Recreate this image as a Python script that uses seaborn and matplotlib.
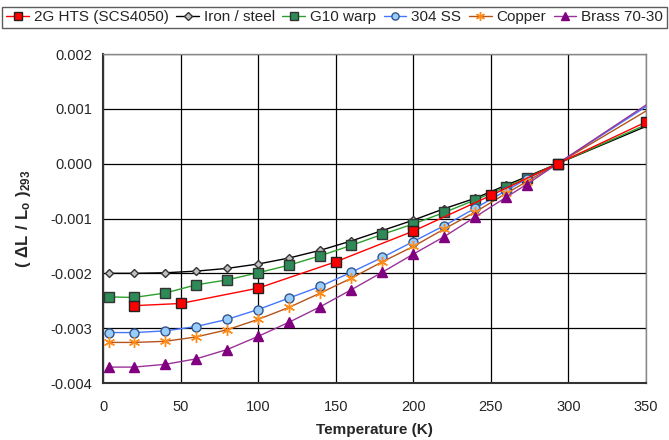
import matplotlib
matplotlib.use("Agg")
import matplotlib.pyplot as plt
import seaborn as sns
import pandas as pd
from matplotlib.lines import Line2D

# ---- data ----
temps = [4, 20, 40, 60, 80, 100, 120, 140, 160, 180, 200, 220, 240, 260, 273, 293, 350]
iron = [-0.00200, -0.00200, -0.00199, -0.00196, -0.00191, -0.00183, -0.00172, -0.00158,
        -0.00141, -0.00122, -0.00103, -0.00082, -0.00063, -0.00039, -0.00024, 0.0, 0.00068]
g10 = [-0.00243, -0.00244, -0.00236, -0.00221, -0.00212, -0.00199, -0.00185, -0.00168,
       -0.00149, -0.00129, -0.00110, -0.00089, -0.00066, -0.00042, -0.00026, 0.0, 0.00071]
ss304 = [-0.00308, -0.00308, -0.00305, -0.00297, -0.00284, -0.00266, -0.00245, -0.00224,
         -0.00198, -0.00171, -0.00142, -0.00113, -0.00081, -0.00049, -0.00028, 0.0, 0.00104]
copper = [-0.00326, -0.00326, -0.00324, -0.00316, -0.00303, -0.00284, -0.00262, -0.00236,
          -0.00209, -0.00179, -0.00151, -0.00119, -0.00088, -0.00054, -0.00033, 0.0, 0.00096]
brass = [-0.00371, -0.00371, -0.00366, -0.00356, -0.00339, -0.00315, -0.00289, -0.00261,
         -0.00230, -0.00198, -0.00165, -0.00133, -0.00097, -0.00061, -0.00038, 0.0, 0.00107]
temps_hts = [20, 50, 100, 150, 200, 250, 293, 350]
hts = [-0.00259, -0.00255, -0.00227, -0.00179, -0.00123, -0.00058, 0.0, 0.00076]

labels = ["2G HTS (SCS4050)", "Iron / steel", "G10 warp", "304 SS", "Copper", "Brass 70-30"]
xticks = [0, 50, 100, 150, 200, 250, 300, 350]
yticks = [-0.004, -0.003, -0.002, -0.001, 0.0, 0.001, 0.002]

sns.set_style("white")
plt.rcParams["font.family"] = ["Liberation Sans", "DejaVu Sans"]
plt.rcParams["mathtext.fontset"] = "custom"
plt.rcParams["mathtext.rm"] = "Liberation Sans"
plt.rcParams["mathtext.bf"] = "Liberation Sans:bold"

fig = plt.figure(figsize=(6.69, 4.40), dpi=100)
ax = fig.add_axes([103 / 669, 1 - 383 / 440, (646 - 103) / 669, (383 - 54) / 440])

edge = "#333333"
styles = [
    # label, x, y, line color, marker, face, edge, size, markevery
    (labels[1], temps, iron, "#000000", "D", "#c0c0c0", edge, 4.5, list(range(16))),
    (labels[2], temps, g10, "#2ca02c", "s", "#2e8b57", edge, 6.5, list(range(16))),
    (labels[3], temps, ss304, "#4477ff", "o", "#99ccff", "#335588", 6.5, list(range(16))),
    (labels[4], temps, copper, "#b5541b", (6, 2, 0), "#ff8c1a", "#ff8c1a", 8, list(range(16))),
    (labels[5], temps, brass, "#993399", "^", "#800080", "#800080", 7, list(range(16))),
    (labels[0], temps_hts, hts, "#ff0000", "s", "#ff0000", "#222222", 6.5, list(range(8))),
]

handles = {}
for lab, xs, ys, lc, mk, fc, ec, ms, me in styles:
    df = pd.DataFrame({"T": xs, "v": ys})
    sns.lineplot(data=df, x="T", y="v", ax=ax, color=lc, lw=1.0,
                 marker=mk, markersize=ms, markerfacecolor=fc, markeredgecolor=ec,
                 markeredgewidth=1.0, markevery=me, sort=True, estimator=None, zorder=3)
    handles[lab] = Line2D([], [], color=lc, lw=1.0, marker=mk, markersize=ms * 0.8,
                          markerfacecolor=fc, markeredgecolor=ec, markeredgewidth=1.0)

ax.set_xlim(0, 350)
ax.set_ylim(-0.004, 0.002)
ax.set_xticks(xticks)
ax.set_yticks(yticks)
ax.set_xticklabels([str(t) for t in xticks], fontsize=10.5)
ax.set_yticklabels([f"{t:.3f}" for t in yticks], fontsize=10.5)
ax.grid(True, color="#000000", lw=0.9)
ax.set_axisbelow(True)
ax.tick_params(axis="both", direction="out", length=3.5, width=1, color="#333333")
ax.tick_params(axis="x", pad=9)
ax.tick_params(axis="y", pad=4)
for s in ["left", "bottom"]:
    ax.spines[s].set_color("#333333")
    ax.spines[s].set_linewidth(1.5)
for s in ["top", "right"]:
    ax.spines[s].set_color("#888888")
    ax.spines[s].set_linewidth(1.0)

ax.set_xlabel("Temperature (K)", fontsize=11, fontweight="bold", labelpad=6)
ax.set_ylabel(r"$\mathbf{(\ \Delta L\ /\ L_o\ )_{293}}$", fontsize=12, labelpad=13)

leg = fig.legend([handles[l] for l in labels], labels, loc="upper center",
                 bbox_to_anchor=(0.5, 0.985), ncol=6, fontsize=11, frameon=True,
                 fancybox=False, edgecolor="#333333", handlelength=1.5,
                 handletextpad=0.3, columnspacing=0.5, borderpad=0.25, borderaxespad=0.0)
leg.get_frame().set_linewidth(1.0)

fig.savefig("out.png", dpi=100)
